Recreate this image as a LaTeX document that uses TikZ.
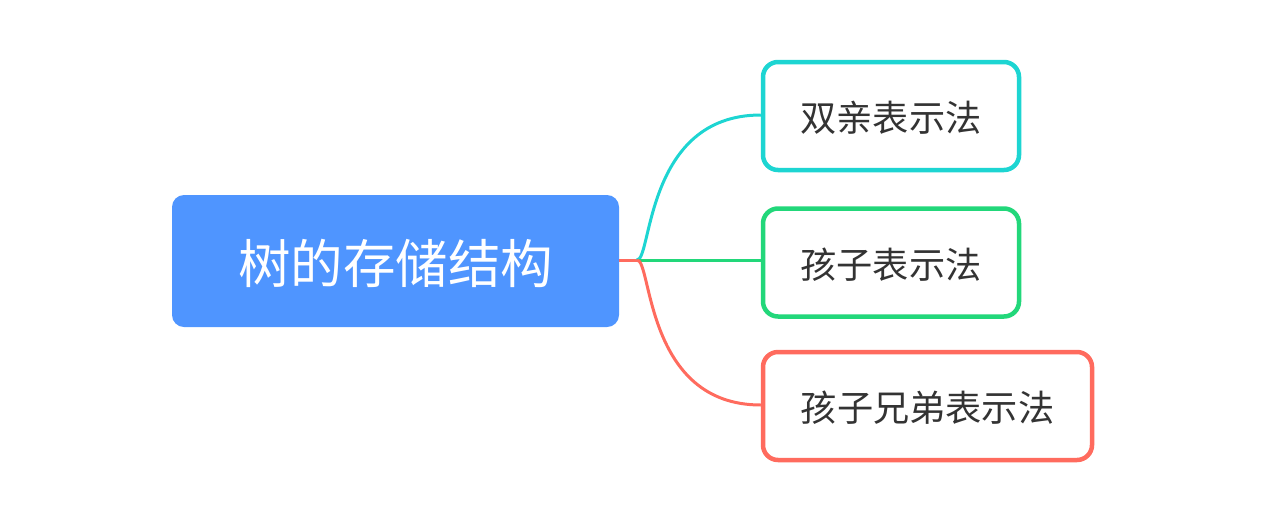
\documentclass[tikz,border=0pt]{standalone}
\usepackage{fontspec}
\newfontfamily\cjk{Noto Sans CJK SC}
\definecolor{rootblue}{HTML}{4F95FF}
\definecolor{ccyan}{HTML}{1DD5D2}
\definecolor{cgreen}{HTML}{22D77A}
\definecolor{cred}{HTML}{FF6B5E}
\definecolor{txt}{HTML}{333333}
\newcommand{\lowr}[1]{\raisebox{-2pt}[\height][\depth]{#1}}
\begin{document}
\begin{tikzpicture}[x=1pt,y=-1pt,
  rootbox/.style={rectangle,rounded corners=12pt,fill=rootblue,text=white,inner sep=0pt,font=\cjk\fontsize{52.5}{60}\selectfont},
  childbox/.style={rectangle,rounded corners=15pt,line width=4.5pt,fill=white,text=txt,inner sep=0pt,font=\cjk\fontsize{36.2}{42}\selectfont},
  link/.style={line width=3pt}]
\useasboundingbox (0,0) rectangle (1276,515);
\node[rootbox,minimum width=447pt,minimum height=132pt] (root) at (395.5,261) {\lowr{树的存储结构}};
\node[childbox,draw=ccyan,minimum width=256pt,minimum height=108pt] (c1) at (891,116) {\lowr{双亲表示法}};
\node[childbox,draw=cgreen,minimum width=256pt,minimum height=108pt] (c2) at (891,262.5) {\lowr{孩子表示法}};
\node[childbox,draw=cred,minimum width=329pt,minimum height=108pt] (c3) at (927.5,406) {\lowr{孩子兄弟表示法}};
\coordinate (j) at (637,260);
\draw[link,cred] (root.east |- j) -- (j);
\draw[link,ccyan] (j) .. controls (652,260) and (645,115) .. (c1.west |- 0,115);
\draw[link,cgreen] (j) -- (c2.west |- j);
\draw[link,cred] (j) .. controls (652,260) and (645,405) .. (c3.west |- 0,405);
\end{tikzpicture}
\end{document}
